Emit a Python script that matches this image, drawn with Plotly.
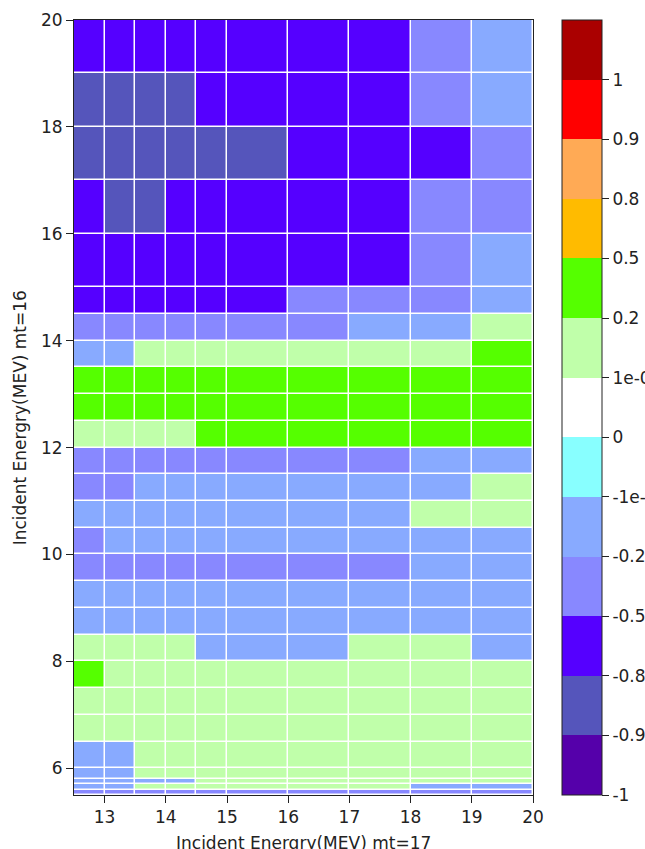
import numpy as np
import plotly.graph_objects as go

# ---- data -------------------------------------------------------------
# bin edges (MeV)
x_edges = [12.5, 13, 13.5, 14, 14.5, 15, 16, 17, 18, 19, 20]
y_edges = [5.5, 5.6, 5.7, 5.8, 6.0, 6.5, 7, 7.5, 8, 8.5, 9, 9.5, 10, 10.5,
           11, 11.5, 12, 12.5, 13, 13.5, 14, 14.5, 15, 16, 17, 18, 19, 20]

# estimated correlation values, rows from bottom (5.5) to top (20)
corr = [
    [-0.35, -0.35, -0.35, -0.35, -0.35, -0.35, -0.35, -0.35, -0.35, -0.35],  # 5.5-5.6
    [-0.10, -0.10, 0.10, 0.10, 0.10, 0.10, 0.10, 0.10, -0.10, -0.10],        # 5.6-5.7
    [-0.10, -0.10, -0.10, -0.10, 0.10, 0.10, 0.10, 0.10, 0.10, 0.10],        # 5.7-5.8
    [-0.10, -0.10, 0.10, 0.10, 0.10, 0.10, 0.10, 0.10, 0.10, 0.10],          # 5.8-6.0
    [-0.10, -0.10, 0.10, 0.10, 0.10, 0.10, 0.10, 0.10, 0.10, 0.10],          # 6.0-6.5
    [0.10, 0.10, 0.10, 0.10, 0.10, 0.10, 0.10, 0.10, 0.10, 0.10],            # 6.5-7
    [0.10, 0.10, 0.10, 0.10, 0.10, 0.10, 0.10, 0.10, 0.10, 0.10],            # 7-7.5
    [0.35, 0.10, 0.10, 0.10, 0.10, 0.10, 0.10, 0.10, 0.10, 0.10],            # 7.5-8
    [0.10, 0.10, 0.10, 0.10, -0.10, -0.10, -0.10, 0.10, 0.10, -0.10],        # 8-8.5
    [-0.10, -0.10, -0.10, -0.10, -0.10, -0.10, -0.10, -0.10, -0.10, -0.10],  # 8.5-9
    [-0.10, -0.10, -0.10, -0.10, -0.10, -0.10, -0.10, -0.10, -0.10, -0.10],  # 9-9.5
    [-0.35, -0.35, -0.35, -0.35, -0.35, -0.35, -0.35, -0.35, -0.10, -0.10],  # 9.5-10
    [-0.35, -0.10, -0.10, -0.10, -0.10, -0.10, -0.10, -0.10, -0.10, -0.10],  # 10-10.5
    [-0.10, -0.10, -0.10, -0.10, -0.10, -0.10, -0.10, -0.10, 0.10, 0.10],    # 10.5-11
    [-0.35, -0.35, -0.10, -0.10, -0.10, -0.10, -0.10, -0.10, -0.10, 0.10],   # 11-11.5
    [-0.35, -0.35, -0.35, -0.35, -0.35, -0.35, -0.35, -0.35, -0.10, -0.10],  # 11.5-12
    [0.10, 0.10, 0.10, 0.10, 0.35, 0.35, 0.35, 0.35, 0.35, 0.35],            # 12-12.5
    [0.35, 0.35, 0.35, 0.35, 0.35, 0.35, 0.35, 0.35, 0.35, 0.35],            # 12.5-13
    [0.35, 0.35, 0.35, 0.35, 0.35, 0.35, 0.35, 0.35, 0.35, 0.35],            # 13-13.5
    [-0.10, -0.10, 0.10, 0.10, 0.10, 0.10, 0.10, 0.10, 0.10, 0.35],          # 13.5-14
    [-0.35, -0.35, -0.35, -0.35, -0.35, -0.35, -0.35, -0.10, -0.10, 0.10],   # 14-14.5
    [-0.65, -0.65, -0.65, -0.65, -0.65, -0.65, -0.35, -0.35, -0.35, -0.10],  # 14.5-15
    [-0.65, -0.65, -0.65, -0.65, -0.65, -0.65, -0.65, -0.65, -0.35, -0.10],  # 15-16
    [-0.65, -0.85, -0.85, -0.65, -0.65, -0.65, -0.65, -0.65, -0.35, -0.35],  # 16-17
    [-0.85, -0.85, -0.85, -0.85, -0.85, -0.85, -0.65, -0.65, -0.65, -0.35],  # 17-18
    [-0.85, -0.85, -0.85, -0.85, -0.65, -0.65, -0.65, -0.65, -0.35, -0.10],  # 18-19
    [-0.65, -0.65, -0.65, -0.65, -0.65, -0.65, -0.65, -0.65, -0.35, -0.10],  # 19-20
]

# colour-bar level boundaries and labels
bounds = [-1, -0.9, -0.8, -0.5, -0.2, -1e-05, 0, 1e-05, 0.2, 0.5, 0.8, 0.9, 1]
bound_labels = ["-1", "-0.9", "-0.8", "-0.5", "-0.2", "-1e-05", "0",
                "1e-05", "0.2", "0.5", "0.8", "0.9", "1"]
level_colors = ["#5500aa", "#5555bb", "#5500ff", "#8888ff", "#88aaff", "#88ffff",
                "#ffffff", "#c0ffaa", "#55ff00", "#ffbb00", "#ffaa55", "#ff0000",
                "#aa0000"]

x_title = "Incident Energry(MEV) mt=17"
y_title = "Incident Energry(MEV) mt=16"

# ---- map values onto discrete (equally spaced) levels ------------------
vals = np.array(corr, dtype=float)
level = np.digitize(vals, bounds) - 1 + 0.5
nlev = len(level_colors)
colorscale = []
for k, c in enumerate(level_colors):
    colorscale.append([k / nlev, c])
    colorscale.append([(k + 1) / nlev, c])

font_family = "DejaVu Sans"
fs = 17
txt = "#222"

fig = go.Figure(go.Heatmap(
    x=x_edges, y=y_edges, z=level,
    zmin=0, zmax=nlev,
    colorscale=colorscale,
    xgap=1.5, ygap=1.5,
    customdata=vals,
    hovertemplate="x=%{x}<br>y=%{y}<br>corr=%{customdata}<extra></extra>",
    colorbar=dict(
        x=(562 - 74) / 459, xanchor="left", xpad=0,
        y=0.5, yanchor="middle", len=1, lenmode="fraction", ypad=0,
        thickness=40, thicknessmode="pixels",
        outlinewidth=1, outlinecolor=txt,
        tickmode="array",
        tickvals=list(range(len(bound_labels))),
        ticktext=bound_labels,
        ticks="outside", ticklen=7, tickcolor=txt,
        tickfont=dict(family=font_family, size=fs, color=txt),
    ),
))

axis_common = dict(
    showline=True, linecolor=txt, linewidth=1, mirror=True,
    ticks="outside", ticklen=7, tickcolor=txt,
    showgrid=False, zeroline=False,
    tickfont=dict(family=font_family, size=fs, color=txt),
)

fig.update_xaxes(range=[12.5, 20], tickmode="array",
                 tickvals=[13, 14, 15, 16, 17, 18, 19, 20], **axis_common)
fig.update_yaxes(range=[5.5, 20], tickmode="array",
                 tickvals=[6, 8, 10, 12, 14, 16, 18, 20], **axis_common)

fig.add_annotation(
    text=x_title, xref="paper", yref="paper", x=0.5, y=0,
    xanchor="center", yanchor="top", yshift=-36, showarrow=False,
    font=dict(family=font_family, size=fs, color=txt),
)
fig.add_annotation(
    text=y_title, xref="paper", yref="paper", x=0, y=0.486,
    xanchor="center", yanchor="middle", xshift=-54, textangle=-90,
    showarrow=False,
    font=dict(family=font_family, size=fs, color=txt),
)

fig.update_layout(
    width=645, height=849,
    margin=dict(l=74, r=112, t=20, b=54, autoexpand=False),
    paper_bgcolor="white", plot_bgcolor="white",
    font=dict(family=font_family, size=fs, color=txt),
)

fig.write_html("out.html")
